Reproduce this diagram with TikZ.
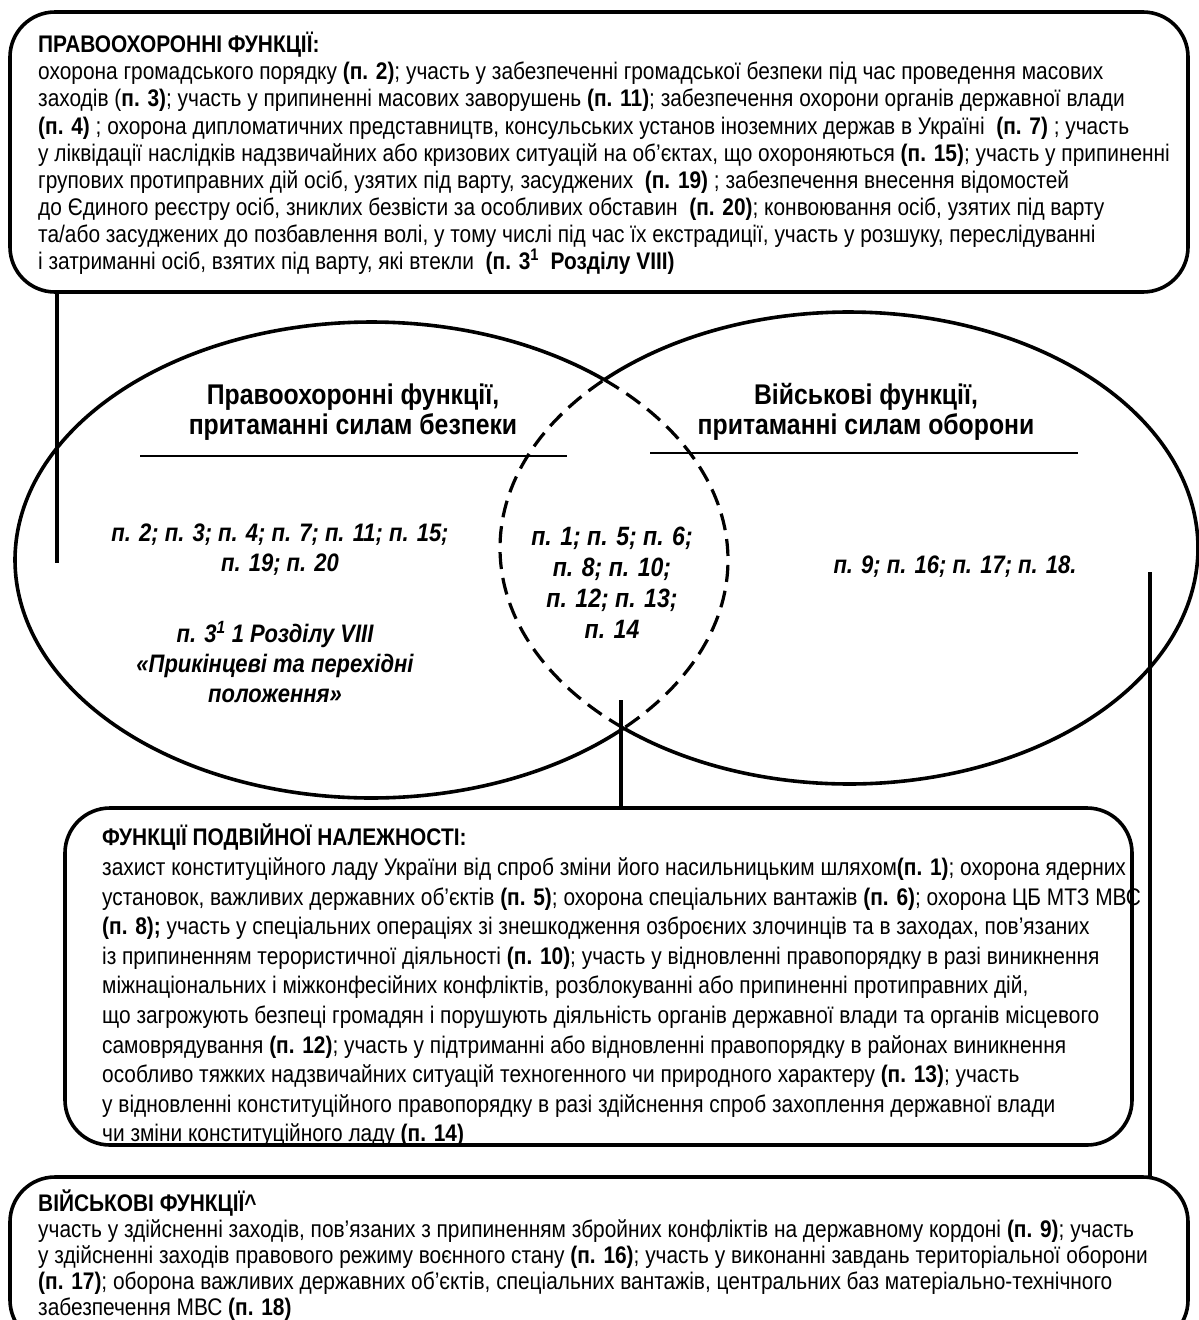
\documentclass[tikz,border=0pt]{standalone}
\usepackage{fontspec}
\setmainfont{Liberation Sans}[FakeStretch=0.87]
\newcommand{\pb}[1]{\textbf{#1}}
\begin{document}
\begin{tikzpicture}[x=1pt,y=-1pt,
  boxln/.style={line width=3.6pt},
  connln/.style={line width=3.6pt},
  ruleln/.style={line width=1.8pt},
  ellln/.style={line width=3.6pt},
  dashln/.style={line width=3.2pt, dash pattern=on 17pt off 9pt},
  bodytext/.style={anchor=north west, align=left, inner sep=0pt, font=\fontsize{24}{27.1}\selectfont},
  titletext/.style={align=center, inner sep=0pt, font=\fontsize{28.5}{30}\selectfont\bfseries},
  itemtext/.style={align=center, inner sep=0pt, font=\fontsize{25.3}{30}\selectfont\bfseries\itshape},
  boxshape/.style={boxln, rounded corners=45pt}
]
\useasboundingbox (0,0) rectangle (1199,1320);
\clip (0,0) rectangle (1199,1320);

% ---------- top box ----------
\draw[boxshape] (10,12) rectangle (1188,292);
\coordinate (topbottom) at (57,292);
\node[bodytext] (toptext) at (38,32) {%
\textbf{ПРАВООХОРОННІ ФУНКЦІЇ:}\\
охорона громадського порядку \pb{(п. 2)}; участь у забезпеченні громадської безпеки під час проведення масових\\
заходів (\pb{п. 3)}; участь у припиненні масових заворушень \pb{(п. 11)}; забезпечення охорони органів державної влади\\
\pb{(п. 4)} ; охорона дипломатичних представництв, консульських установ іноземних держав в Україні \ \pb{(п. 7)} ; участь\\
у ліквідації наслідків надзвичайних або кризових ситуацій на об’єктах, що охороняються \pb{(п. 15)}; участь у припиненні\\
групових протиправних дій осіб, узятих під варту, засуджених \ \pb{(п. 19)} ; забезпечення внесення відомостей\\
до Єдиного реєстру осіб, зниклих безвісти за особливих обставин \ \pb{(п. 20)}; конвоювання осіб, узятих під варту\\
та/або засуджених до позбавлення волі, у тому числі під час їх екстрадиції, участь у розшуку, переслідуванні\\
і затриманні осіб, взятих під варту, які втекли \ \pb{(п. 3\textsuperscript{1} \ Розділу VIII)}};

% ---------- ellipses ----------
\draw[ellln] plot[domain=44.97:310.77, samples=220] ({371.5+356.5*cos(\x)},{560+238*sin(\x)});
\draw[dashln] plot[domain=-49.23:44.97, samples=120] ({371.5+356.5*cos(\x)},{560+238*sin(\x)});
\draw[ellln] plot[domain=-134.52:130.21, samples=220] ({849+349*cos(\x)},{548+236*sin(\x)});
\draw[dashln] plot[domain=130.21:225.48, samples=120] ({849+349*cos(\x)},{548+236*sin(\x)});

% titles
\node[titletext] (ltitle) at (353,412) {Правоохоронні функції,\\притаманні силам безпеки};
\node[titletext] (rtitle) at (866,412) {Військові функції,\\притаманні силам оборони};
\coordinate (lr1) at (140,456); \coordinate (lr2) at (567,456);
\coordinate (rr1) at (650,453); \coordinate (rr2) at (1078,453);
\draw[ruleln] (lr1) -- (lr2);
\draw[ruleln] (rr1) -- (rr2);

% items
\node[itemtext] (litems) at (280,550) {п. 2; п. 3; п. 4; п. 7; п. 11; п. 15;\\п. 19; п. 20};
\node[itemtext] (litems2) at (275,662) {п. 3\textsuperscript{1} 1 Розділу VIII\\«Прикінцеві та перехідні\\положення»};
\node[itemtext, font=\fontsize{26.5}{31}\selectfont\bfseries\itshape] (mitems) at (612,583) {п. 1; п. 5; п. 6;\\п. 8; п. 10;\\п. 12; п. 13;\\п. 14};
\node[itemtext] (ritems) at (955,567) {п. 9; п. 16; п. 17; п. 18.};

% ---------- middle box ----------
\draw[boxshape] (65,808) rectangle (1132,1145);
\coordinate (midtop) at (621,808);
\coordinate (midend) at (621,700);
\node[bodytext, font=\fontsize{24}{29.6}\selectfont] (midtext) at (102,824) {%
\textbf{ФУНКЦІЇ ПОДВІЙНОЇ НАЛЕЖНОСТІ:}\\
захист конституційного ладу України від спроб зміни його насильницьким шляхом\pb{(п. 1)}; охорона ядерних\\
установок, важливих державних об’єктів \pb{(п. 5)}; охорона спеціальних вантажів \pb{(п. 6)}; охорона ЦБ МТЗ МВС\\
\pb{(п. 8);} участь у спеціальних операціях зі знешкодження озброєних злочинців та в заходах, пов’язаних\\
із припиненням терористичної діяльності \pb{(п. 10)}; участь у відновленні правопорядку в разі виникнення\\
міжнаціональних і міжконфесійних конфліктів, розблокуванні або припиненні протиправних дій,\\
що загрожують безпеці громадян і порушують діяльність органів державної влади та органів місцевого\\
самоврядування \pb{(п. 12)}; участь у підтриманні або відновленні правопорядку в районах виникнення\\
особливо тяжких надзвичайних ситуацій техногенного чи природного характеру \pb{(п. 13)}; участь\\
у відновленні конституційного правопорядку в разі здійснення спроб захоплення державної влади\\
чи зміни конституційного ладу \pb{(п. 14)}};

% ---------- bottom box ----------
\draw[boxshape] (10,1177) rectangle (1188,1345);
\coordinate (bottop) at (1150,1177);
\coordinate (rend) at (1150,572);
\node[bodytext, font=\fontsize{24}{26}\selectfont] (bottext) at (38,1190) {%
\textbf{ВІЙСЬКОВІ ФУНКЦІЇ\^{}}\\
участь у здійсненні заходів, пов’язаних з припиненням збройних конфліктів на державному кордоні \pb{(п. 9)}; участь\\
у здійсненні заходів правового режиму воєнного стану \pb{(п. 16)}; участь у виконанні завдань територіальної оборони\\
\pb{(п. 17)}; оборона важливих державних об’єктів, спеціальних вантажів, центральних баз матеріально-технічного\\
забезпечення МВС \pb{(п. 18)}};

% ---------- connectors ----------
\coordinate (lend) at (57,563);
\draw[connln] (topbottom) -- (lend);
\draw[connln] (midend) -- (midtop);
\draw[connln] (rend) -- (bottop);
\end{tikzpicture}
\end{document}
